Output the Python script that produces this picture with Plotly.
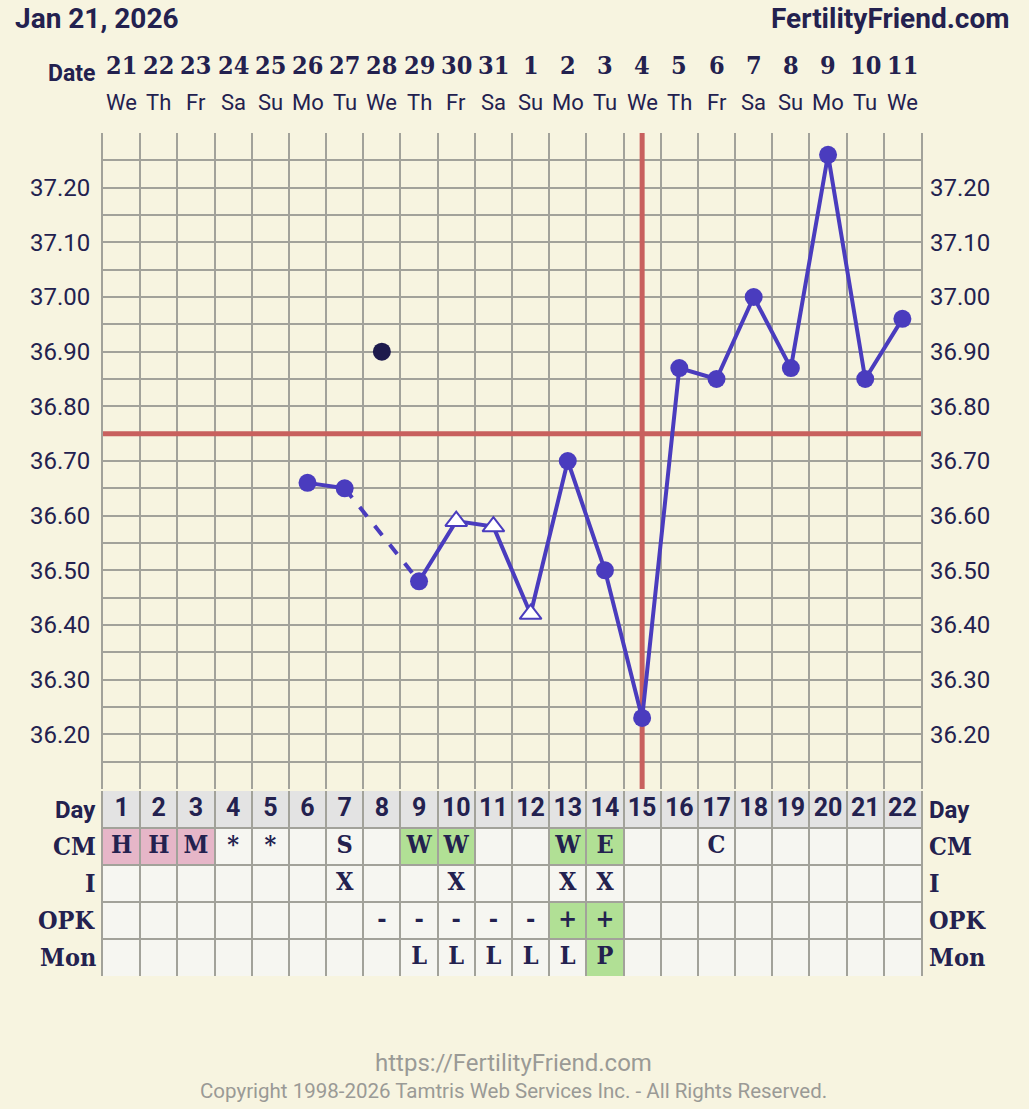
import plotly.graph_objects as go

# ---------------- data ----------------
cycle_days = list(range(1, 23))
dates = ["21", "22", "23", "24", "25", "26", "27", "28", "29", "30", "31",
         "1", "2", "3", "4", "5", "6", "7", "8", "9", "10", "11"]
weekdays = ["We", "Th", "Fr", "Sa", "Su", "Mo", "Tu", "We", "Th", "Fr", "Sa",
            "Su", "Mo", "Tu", "We", "Th", "Fr", "Sa", "Su", "Mo", "Tu", "We"]
temps = [None, None, None, None, None,
         36.66, 36.65, 36.90, 36.48, 36.59, 36.58, 36.42, 36.70, 36.50,
         36.23, 36.87, 36.85, 37.00, 36.87, 37.26, 36.85, 36.96]
discarded_days = [8]
open_days = [10, 11, 12]
dashed_from, dashed_to = 7, 9
coverline = 36.75
ovulation_day = 15

cm = ["H", "H", "M", "*", "*", "", "S", "", "W", "W", "", "", "W", "E",
      "", "", "C", "", "", "", "", ""]
cm_col = ["pink", "pink", "pink", "", "", "", "", "", "green", "green", "", "",
          "green", "green", "", "", "", "", "", "", "", ""]
intercourse = ["", "", "", "", "", "", "X", "", "", "X", "", "", "X", "X",
               "", "", "", "", "", "", "", ""]
opk = ["", "", "", "", "", "", "", "-", "-", "-", "-", "-", "+", "+",
       "", "", "", "", "", "", "", ""]
opk_col = ["", "", "", "", "", "", "", "", "", "", "", "", "green", "green",
           "", "", "", "", "", "", "", ""]
monitor = ["", "", "", "", "", "", "", "", "L", "L", "L", "L", "L", "P",
           "", "", "", "", "", "", "", ""]
mon_col = ["", "", "", "", "", "", "", "", "", "", "", "", "", "green",
           "", "", "", "", "", "", "", ""]
row_names = ["Day", "CM", "I", "OPK", "Mon"]

y_ticks = [round(36.10 + 0.05 * i, 2) for i in range(25)]
y_labels = ["%.2f" % v if (round(v * 100) % 10 == 0 and 36.15 < v < 37.25) else "" for v in y_ticks]

# ---------------- style ----------------
BG = "#f7f4e0"
CELL = "#f6f6f1"
DAYROW = "#e3e3e3"
GRID = "#a2a29a"
NAVY = "#23214f"
PURPLE = "#4a3cbe"
RED = "#c8605e"
FILL = {"pink": "#e6b6c8", "green": "#b1e095", "": CELL}
SANS = "Roboto, Arial, sans-serif"
SLAB = "DejaVu Serif Condensed, DejaVu Serif, serif"

W, H = 1029, 1109
ML, MR, MT, MB = 103, 108, 133, 133
PH = H - MT - MB
PW = W - ML - MR


def py(pix):
    return (H - MB - pix) / PH


def px(pix):
    return (pix - ML) / PW


fig = go.Figure()

# temperature lines
solid_y = [None if (d in discarded_days) else t for d, t in zip(cycle_days, temps)]
fig.add_trace(go.Scatter(x=cycle_days, y=solid_y, mode="lines", connectgaps=False,
                         line=dict(color=PURPLE, width=4), hoverinfo="skip",
                         showlegend=False, xaxis="x", yaxis="y"))
fig.add_trace(go.Scatter(x=[dashed_from, dashed_to],
                         y=[temps[dashed_from - 1], temps[dashed_to - 1]],
                         mode="lines", line=dict(color=PURPLE, width=4, dash="dash"),
                         hoverinfo="skip", showlegend=False, xaxis="x", yaxis="y"))

# markers
cx, cy = [], []
tx, ty = [], []
for d, t in zip(cycle_days, temps):
    if t is None or d in discarded_days:
        continue
    if d in open_days:
        tx.append(d); ty.append(t)
    else:
        cx.append(d); cy.append(t)
fig.add_trace(go.Scatter(x=cx, y=cy, mode="markers",
                         marker=dict(symbol="circle", size=18, color=PURPLE),
                         showlegend=False, xaxis="x", yaxis="y"))
fig.add_trace(go.Scatter(x=tx, y=ty, mode="markers",
                         marker=dict(symbol="triangle-up", size=19, color="white",
                                     line=dict(color=PURPLE, width=2)),
                         showlegend=False, xaxis="x", yaxis="y"))
fig.add_trace(go.Scatter(x=discarded_days, y=[temps[d - 1] for d in discarded_days],
                         mode="markers", marker=dict(symbol="circle", size=18, color="#1d1a4c"),
                         showlegend=False, xaxis="x", yaxis="y"))
# invisible trace for right axis
fig.add_trace(go.Scatter(x=[1], y=[36.5], mode="markers", marker=dict(opacity=0),
                         showlegend=False, hoverinfo="skip", xaxis="x", yaxis="y3"))

# coverline and ovulation line
fig.add_shape(type="line", xref="x", yref="y", x0=0.5, x1=22.5, y0=coverline, y1=coverline,
              line=dict(color=RED, width=5), layer="between")
fig.add_shape(type="line", xref="x", yref="y", x0=ovulation_day, x1=ovulation_day,
              y0=36.10, y1=37.30, line=dict(color=RED, width=5), layer="between")

# table cells
rows = [
    (4, [str(d) for d in cycle_days], [DAYROW] * 22, SANS),
    (3, cm, [FILL[c] for c in cm_col], SLAB),
    (2, intercourse, [CELL] * 22, SLAB),
    (1, opk, [FILL[c] for c in opk_col], SLAB),
    (0, monitor, [FILL[c] for c in mon_col], SLAB),
]
for r, texts, cols, fnt in rows:
    for d, txt, col in zip(cycle_days, texts, cols):
        fig.add_shape(type="rect", xref="x2", yref="y2", x0=d - 0.5, x1=d + 0.5,
                      y0=r, y1=r + 1, fillcolor=col, line=dict(width=0), layer="below")
    fig.add_trace(go.Scatter(x=cycle_days, y=[r + 0.5] * 22, text=texts, mode="text",
                             textfont=dict(family=fnt, size=25, color=NAVY, weight="bold"),
                             showlegend=False, hoverinfo="skip", xaxis="x2", yaxis="y2"))

# row labels both sides
for i, name in enumerate(row_names):
    yc = 4.5 - i
    fnt = SANS if name == "Day" else SLAB
    sz = 24 if name == "Day" else 25
    fig.add_annotation(x=px(98), xref="paper", y=yc, yref="y2", text="<b>%s</b>" % name,
                       xanchor="right", yanchor="middle", showarrow=False,
                       font=dict(family=fnt, size=sz, color=NAVY))
    fig.add_annotation(x=px(927), xref="paper", y=yc, yref="y2", text="<b>%s</b>" % name,
                       xanchor="left", yanchor="middle", showarrow=False,
                       font=dict(family=fnt, size=sz, color=NAVY))

# dates / weekdays on top
for d, dt, wd in zip(cycle_days, dates, weekdays):
    fig.add_annotation(x=d, xref="x", y=py(66), yref="paper", text="<b>%s</b>" % dt,
                       showarrow=False, yanchor="middle",
                       font=dict(family=SLAB, size=25, color=NAVY))
    fig.add_annotation(x=d, xref="x", y=py(103), yref="paper", text=wd,
                       showarrow=False, yanchor="middle",
                       font=dict(family=SANS, size=22, color=NAVY))
fig.add_annotation(x=px(97), xref="paper", y=py(74), yref="paper",
                   text="<b>Date</b>", showarrow=False, xanchor="right", yanchor="middle",
                   font=dict(family=SANS, size=23, color=NAVY))

# titles
fig.add_annotation(x=px(13), xref="paper", y=py(19), yref="paper",
                   text="<b>Jan 21, 2026</b>", showarrow=False, xanchor="left", yanchor="middle",
                   font=dict(family=SANS, size=28, color=NAVY))
fig.add_annotation(x=px(1011), xref="paper", y=py(19), yref="paper",
                   text="<b>FertilityFriend.com</b>", showarrow=False, xanchor="right",
                   yanchor="middle", font=dict(family=SANS, size=28, color=NAVY))

# footer
fig.add_annotation(x=px(513), xref="paper", y=py(1063), yref="paper",
                   text="https://FertilityFriend.com", showarrow=False, yanchor="middle",
                   font=dict(family=SANS, size=24, color="#9a9a96"))
fig.add_annotation(x=px(513), xref="paper", y=py(1091), yref="paper",
                   text="Copyright 1998-2026 Tamtris Web Services Inc. - All Rights Reserved.",
                   showarrow=False, yanchor="middle",
                   font=dict(family=SANS, size=20.5, color="#9a9a96"))

chart_bottom = py(789)
table_top = py(791)
grid_x = [d + 0.5 for d in range(0, 23)]

fig.update_layout(
    width=W, height=H,
    margin=dict(l=ML, r=MR, t=MT, b=MB, pad=0),
    paper_bgcolor=BG, plot_bgcolor=BG,
    showlegend=False,
    xaxis=dict(range=[0.5, 22.5], domain=[0, 1], anchor="y", tickvals=grid_x,
               showticklabels=False, ticks="", showgrid=True, gridcolor=GRID, gridwidth=2,
               zeroline=False, showline=False, fixedrange=True),
    yaxis=dict(range=[36.10, 37.30], domain=[chart_bottom, 1], anchor="x",
               tickvals=y_ticks, ticktext=y_labels, ticks="", showgrid=True,
               gridcolor=GRID, gridwidth=2, zeroline=False, showline=True,
               linecolor=GRID, linewidth=2, mirror=True,
               tickfont=dict(family=SANS, size=24, color=NAVY), ticklabelstandoff=6),
    yaxis3=dict(range=[36.10, 37.30], overlaying="y", side="right", anchor="x",
                tickvals=y_ticks, ticktext=y_labels, ticks="", showgrid=False,
                zeroline=False, showline=False,
                tickfont=dict(family=SANS, size=24, color=NAVY), ticklabelstandoff=8),
    xaxis2=dict(matches="x", range=[0.5, 22.5], domain=[0, 1], anchor="y2", tickvals=grid_x,
                showticklabels=False, ticks="", showgrid=True, gridcolor=GRID, gridwidth=2,
                zeroline=False, showline=False),
    yaxis2=dict(range=[0, 5], domain=[0, table_top], anchor="x2", tickvals=[0, 1, 2, 3, 4, 5],
                showticklabels=False, ticks="", showgrid=True, gridcolor=GRID, gridwidth=2,
                zeroline=False, showline=True, linecolor=GRID, linewidth=2, mirror=True),
)

fig.write_html("out.html", config={"displayModeBar": False},
               post_script="document.body.style.margin='0';"
                           "document.body.style.background='%s';" % BG)
